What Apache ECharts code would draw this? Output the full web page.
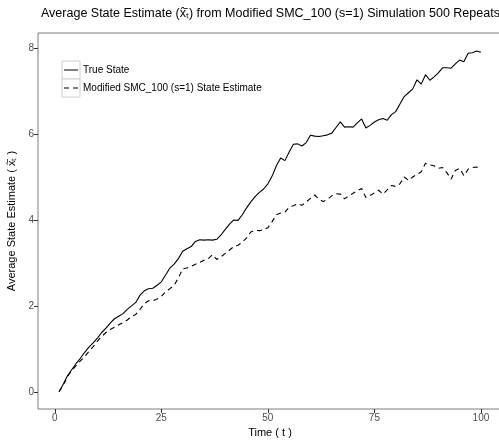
<!DOCTYPE html>
<html>
<head>
  <meta charset="utf-8">
  <style>
    html, body { margin: 0; padding: 0; width: 100%; height: 100%; overflow: hidden; background: #fff; }
  </style>
  <script src="https://cdn.jsdelivr.net/npm/echarts@6/dist/echarts.min.js"></script>
</head>
<body>
  <div id="container" style="width: 499px; height: 445px;"></div>
  <script>
    // values, t = 1..100
    var trueState = [
      0.00, 0.18, 0.38, 0.52, 0.66, 0.78, 0.92, 1.04, 1.14, 1.25,
      1.38, 1.48, 1.60, 1.70, 1.76, 1.82, 1.92, 2.00, 2.08, 2.25,
      2.35, 2.40, 2.41, 2.48, 2.56, 2.72, 2.88, 2.97, 3.10, 3.27,
      3.33, 3.38, 3.50, 3.54, 3.53, 3.54, 3.53, 3.55, 3.65, 3.78,
      3.90, 4.00, 3.99, 4.12, 4.28, 4.42, 4.54, 4.64, 4.72, 4.84,
      5.02, 5.26, 5.44, 5.38, 5.58, 5.76, 5.77, 5.72, 5.80, 5.97,
      5.95, 5.94, 5.96, 5.98, 6.02, 6.15, 6.28, 6.16, 6.17, 6.16,
      6.26, 6.35, 6.14, 6.20, 6.28, 6.33, 6.36, 6.32, 6.45, 6.52,
      6.70, 6.87, 6.96, 7.05, 7.26, 7.16, 7.38, 7.25, 7.33, 7.42,
      7.54, 7.54, 7.53, 7.63, 7.72, 7.68, 7.88, 7.89, 7.93, 7.90
    ];
    var estimate = [
      0.00, 0.16, 0.36, 0.50, 0.61, 0.72, 0.82, 0.94, 1.05, 1.18,
      1.29, 1.38, 1.45, 1.50, 1.56, 1.61, 1.67, 1.75, 1.80, 1.92,
      2.05, 2.12, 2.12, 2.16, 2.22, 2.33, 2.40, 2.48, 2.65, 2.86,
      2.88, 2.92, 2.97, 3.01, 3.06, 3.10, 3.19, 3.08, 3.14, 3.22,
      3.30, 3.38, 3.41, 3.48, 3.58, 3.72, 3.76, 3.75, 3.77, 3.82,
      3.96, 4.12, 4.16, 4.18, 4.30, 4.33, 4.38, 4.34, 4.42, 4.50,
      4.58, 4.48, 4.43, 4.48, 4.56, 4.61, 4.60, 4.49, 4.56, 4.62,
      4.68, 4.73, 4.52, 4.57, 4.63, 4.69, 4.60, 4.70, 4.80, 4.78,
      4.84, 5.00, 4.92, 5.00, 5.06, 5.12, 5.32, 5.28, 5.26, 5.20,
      5.22, 5.10, 4.95, 5.15, 5.20, 5.03, 5.18, 5.22, 5.23, 5.22
    ];
    var xTicks = [0, 25, 50, 75, 100];
    var yTicks = [0, 2, 4, 6, 8];
    var seriesNames = ['True State', 'Modified SMC_100 (s=1) State Estimate'];

    function pairs(vals) {
      var out = [];
      for (var i = 0; i < vals.length; i++) out.push([i + 1, vals[i]]);
      return out;
    }

    var font = '"Liberation Sans", Arial, sans-serif';
    var xhat = 'x\u0302\u0304';

    var myChart = echarts.init(document.getElementById('container'), null, { renderer: 'canvas' });

    var option = {
      animation: false,
      backgroundColor: '#fff',
      textStyle: { fontFamily: font },
      title: {
        text: 'Average State Estimate (' + xhat + '\u209c) from Modified SMC_100 (s=1) Simulation 500 Repeats',
        left: 41,
        top: 7,
        padding: 0,
        textStyle: { fontFamily: font, fontSize: 12.5, fontWeight: 'normal', color: '#000' }
      },
      grid: {
        left: 38, top: 33, right: -3, bottom: 36,
        outerBoundsMode: 'none',
        containLabel: false,
        show: true, borderColor: '#7f7f7f', borderWidth: 1, backgroundColor: '#fff'
      },
      // legend key boxes
      graphic: [
        { type: 'rect', shape: { x: 62, y: 61, width: 18, height: 18 }, style: { fill: '#fff', stroke: '#d0d0d0', lineWidth: 1 }, z: 1 },
        { type: 'rect', shape: { x: 62, y: 79, width: 18, height: 18 }, style: { fill: '#fff', stroke: '#d0d0d0', lineWidth: 1 }, z: 1 }
      ],
      legend: {
        orient: 'vertical',
        left: 64,
        top: 61,
        padding: 0,
        itemWidth: 14,
        itemHeight: 1.4,
        itemGap: 0,
        z: 10,
        data: [
          { name: seriesNames[0], icon: 'path://M0,0h14v1h-14z' },
          { name: seriesNames[1], icon: 'path://M0,0h5v1h-5z M9,0h5v1h-5z' }
        ],
        itemStyle: { color: '#000' },
        textStyle: { fontFamily: font, fontSize: 10, color: '#000', lineHeight: 18 }
      },
      xAxis: {
        type: 'value',
        min: -3.95,
        max: 104.95,
        name: 'Time ( t )',
        nameLocation: 'middle',
        nameGap: 18,
        nameTextStyle: { fontFamily: font, fontSize: 11, color: '#000' },
        axisLine: { show: false, onZero: false },
        axisTick: { show: true, length: 4, lineStyle: { color: '#333' }, customValues: xTicks },
        axisLabel: { fontFamily: font, fontSize: 10, color: '#4d4d4d', margin: 4, customValues: xTicks },
        splitLine: { show: false }
      },
      yAxis: {
        type: 'value',
        min: -0.4,
        max: 8.35,
        name: 'Average State Estimate ( ' + xhat + '\u209c )',
        nameLocation: 'middle',
        nameGap: 17,
        nameTextStyle: { fontFamily: font, fontSize: 11, color: '#000' },
        axisLine: { show: false, onZero: false },
        axisTick: { show: true, length: 4, lineStyle: { color: '#333' }, customValues: yTicks },
        axisLabel: { fontFamily: font, fontSize: 10, color: '#4d4d4d', margin: 4, customValues: yTicks },
        splitLine: { show: false }
      },
      series: [
        {
          name: seriesNames[0],
          type: 'line',
          data: pairs(trueState),
          showSymbol: false,
          symbol: 'none',
          lineStyle: { color: '#000', width: 1.1, type: 'solid' },
          itemStyle: { color: '#000' }
        },
        {
          name: seriesNames[1],
          type: 'line',
          data: pairs(estimate),
          showSymbol: false,
          symbol: 'none',
          lineStyle: { color: '#000', width: 1.1, type: [5, 4] },
          itemStyle: { color: '#000' }
        }
      ]
    };

    myChart.setOption(option);
    window.addEventListener('resize', myChart.resize);
  </script>
</body>
</html>
